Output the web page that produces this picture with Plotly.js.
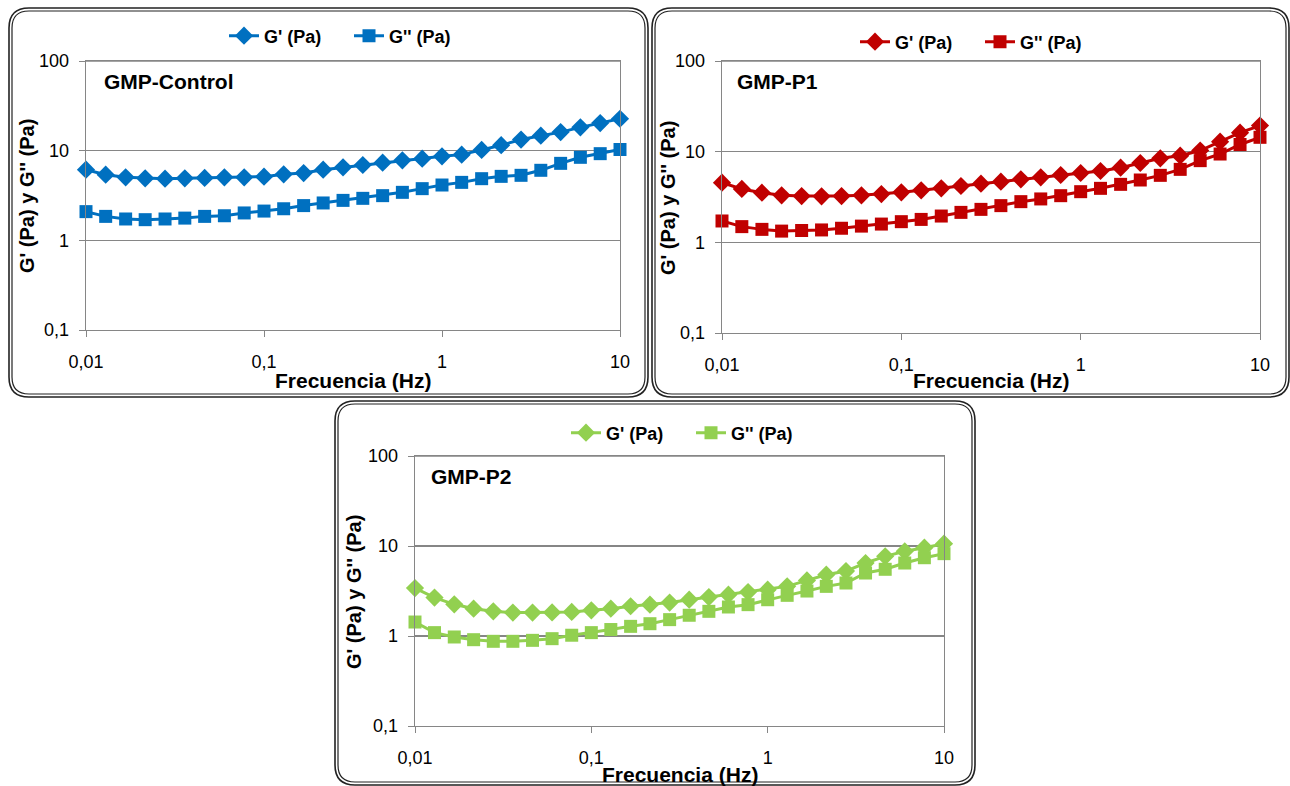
<!DOCTYPE html>
<html><head><meta charset="utf-8">
<script src="https://cdn.plot.ly/plotly-3.0.1.min.js"></script>
<style>html,body{margin:0;padding:0;background:#fff}#chart{width:1290px;height:786px}</style>
</head><body><div id="chart"></div>
<script>
// ---- data ----
const freq = [0.01,0.0129,0.0167,0.0215,0.0278,0.0359,0.0464,0.0599,0.0774,0.1,
  0.129,0.167,0.215,0.278,0.359,0.464,0.599,0.774,1,1.29,1.67,2.15,2.78,3.59,4.64,5.99,7.74,10];
const ctrlGp  = [6.14,5.40,5.04,4.92,4.87,4.92,4.96,5.04,5.04,5.13,5.45,5.63,6.14,6.52,6.92,7.35,7.80,8.14,8.64,9.03,10.2,11.5,13.3,14.7,16.1,18.2,20.3,22.7];
const ctrlGpp = [2.09,1.85,1.73,1.70,1.73,1.77,1.85,1.88,2.02,2.12,2.25,2.44,2.61,2.79,2.94,3.15,3.43,3.77,4.14,4.43,4.87,5.17,5.31,6.04,7.22,8.43,9.26,10.3];
const p1Gp    = [4.55,3.88,3.53,3.30,3.24,3.22,3.24,3.30,3.41,3.56,3.75,3.94,4.18,4.44,4.67,4.95,5.21,5.53,5.82,6.12,6.66,7.50,8.44,9.03,10.3,12.9,16.2,19.4];
const p1Gpp   = [1.72,1.49,1.39,1.33,1.35,1.37,1.43,1.51,1.59,1.69,1.79,1.95,2.14,2.31,2.54,2.81,3.01,3.27,3.62,3.94,4.36,4.87,5.48,6.38,7.96,9.42,12.0,14.4];
const p2Gp    = [3.41,2.67,2.25,2.01,1.88,1.82,1.82,1.83,1.85,1.93,2.01,2.14,2.23,2.35,2.53,2.71,2.88,3.08,3.27,3.56,4.15,4.80,5.27,6.47,7.67,8.73,9.58,10.6];
const p2Gpp   = [1.43,1.09,0.975,0.91,0.873,0.873,0.895,0.934,1.02,1.09,1.18,1.28,1.37,1.52,1.70,1.88,2.10,2.23,2.53,2.83,3.16,3.56,3.88,5.01,5.51,6.47,7.41,8.22];
const panelNames = ['GMP-Control','GMP-P1','GMP-P2'];
const seriesNames = ["G' (Pa)", "G'' (Pa)"];
const xTickVals = [0.01,0.1,1,10];
const xTickText = ['0,01','0,1','1','10'];
const yTickVals = [0.1,1,10,100];
const yTickText = ['0,1','1','10','100'];
const xTitle = 'Frecuencia (Hz)';
const yTitle = "G' (Pa) y G'' (Pa)";

// ---- layout geometry (pixels) ----
const W = 1290, H = 786;
const fx = p => p / W, fy = p => 1 - p / H;
const FONT = 'Liberation Sans, Arial, sans-serif';
const GRID = '#868686';
const panels = [
  {gp: ctrlGp, gpp: ctrlGpp, color: '#0070C0', plot: [86, 61, 620, 330], frame: [9, 8, 648, 397],
   legend: [224, 36], label: [102, 82], ytitle: [27, 196], xtitle: [353, 380]},
  {gp: p1Gp, gpp: p1Gpp, color: '#C00000', plot: [722, 61, 1260, 333], frame: [652, 8, 1289, 397],
   legend: [855, 42], label: [735, 82], ytitle: [668, 198], xtitle: [991, 380]},
  {gp: p2Gp, gpp: p2Gpp, color: '#92D050', plot: [415, 456, 944, 726], frame: [335, 401, 975, 785],
   legend: [566, 433], label: [429, 477], ytitle: [354, 592], xtitle: [680, 774]}
];

function roundRect(x0, y0, x1, y1, r) {
  const X = fx, Y = fy;
  return `M${X(x0 + r)},${Y(y0)} L${X(x1 - r)},${Y(y0)} Q${X(x1)},${Y(y0)} ${X(x1)},${Y(y0 + r)} ` +
    `L${X(x1)},${Y(y1 - r)} Q${X(x1)},${Y(y1)} ${X(x1 - r)},${Y(y1)} ` +
    `L${X(x0 + r)},${Y(y1)} Q${X(x0)},${Y(y1)} ${X(x0)},${Y(y1 - r)} ` +
    `L${X(x0)},${Y(y0 + r)} Q${X(x0)},${Y(y0)} ${X(x0 + r)},${Y(y0)} Z`;
}

const traces = [];
const layout = {
  width: W, height: H, margin: {l: 0, r: 0, t: 0, b: 0},
  paper_bgcolor: '#fff', plot_bgcolor: '#fff',
  font: {family: FONT, color: '#000'},
  shapes: [], annotations: []
};

panels.forEach((p, i) => {
  const n = i === 0 ? '' : String(i + 1);
  const xa = 'x' + n, ya = 'y' + n, lg = 'legend' + n;
  const symbols = ['diamond', 'square'];
  const sizes = [14, 13];
  [p.gp, p.gpp].forEach((vals, k) => {
    traces.push({
      type: 'scatter', mode: 'lines+markers', x: freq, y: vals, name: seriesNames[k],
      xaxis: xa, yaxis: ya, legend: lg, cliponaxis: false,
      line: {color: p.color, width: 3},
      marker: {symbol: symbols[k], size: sizes[k], color: p.color}
    });
  });
  layout['xaxis' + n] = {
    type: 'log', range: [-2, 1], domain: [fx(p.plot[0]), fx(p.plot[2])], anchor: ya,
    tickvals: xTickVals, ticktext: xTickText, ticks: 'outside', ticklen: 6, tickcolor: GRID,
    showline: true, mirror: true, linecolor: GRID, linewidth: 1.3, showgrid: false, zeroline: false,
    tickfont: {family: FONT, size: 18, color: '#000'}, ticklabelstandoff: 9, fixedrange: true
  };
  layout['yaxis' + n] = {
    type: 'log', range: [-1, 2], domain: [fy(p.plot[3]), fy(p.plot[1])], anchor: xa,
    tickvals: yTickVals, ticktext: yTickText, ticks: 'outside', ticklen: 6, tickcolor: GRID,
    showline: true, mirror: true, linecolor: GRID, linewidth: 1.3,
    showgrid: true, gridcolor: GRID, gridwidth: 1.3, zeroline: false,
    tickfont: {family: FONT, size: 18, color: '#000'}, ticklabelstandoff: 6, fixedrange: true
  };
  layout[lg] = {
    orientation: 'h', x: fx(p.legend[0]), y: fy(p.legend[1]), xanchor: 'left', yanchor: 'middle',
    bgcolor: 'rgba(0,0,0,0)', borderwidth: 0, entrywidth: 80, entrywidthmode: 'pixels',
    font: {family: FONT, size: 18, color: '#000', weight: 'bold'},
    itemclick: false, itemdoubleclick: false
  };
  // top border of plot area (gridline at 100)
  layout.shapes.push({type: 'line', xref: xa + ' domain', yref: ya + ' domain', x0: 0, x1: 1, y0: 1, y1: 1,
    line: {color: GRID, width: 1.3}, layer: 'below'});
  // frames
  const f = p.frame;
  layout.shapes.push({type: 'path', xref: 'paper', yref: 'paper', path: roundRect(f[0], f[1], f[2], f[3], 20),
    line: {color: '#222', width: 1.6}});
  layout.shapes.push({type: 'path', xref: 'paper', yref: 'paper', path: roundRect(f[0] + 3, f[1] + 3, f[2] - 3, f[3] - 3, 17),
    line: {color: '#222', width: 1.2}});
  // texts
  layout.annotations.push({xref: 'paper', yref: 'paper', x: fx(p.label[0]), y: fy(p.label[1]),
    xanchor: 'left', yanchor: 'middle', showarrow: false, text: '<b>' + panelNames[i] + '</b>',
    font: {family: FONT, size: 21, color: '#000'}});
  layout.annotations.push({xref: 'paper', yref: 'paper', x: fx(p.ytitle[0]), y: fy(p.ytitle[1]),
    xanchor: 'center', yanchor: 'middle', showarrow: false, textangle: -90, text: '<b>' + yTitle + '</b>',
    font: {family: FONT, size: 20, color: '#000'}});
  layout.annotations.push({xref: 'paper', yref: 'paper', x: fx(p.xtitle[0]), y: fy(p.xtitle[1]),
    xanchor: 'center', yanchor: 'middle', showarrow: false, text: '<b>' + xTitle + '</b>',
    font: {family: FONT, size: 21, color: '#000'}});
});

Plotly.newPlot('chart', traces, layout, {displayModeBar: false, staticPlot: true});
</script>
</body></html>
